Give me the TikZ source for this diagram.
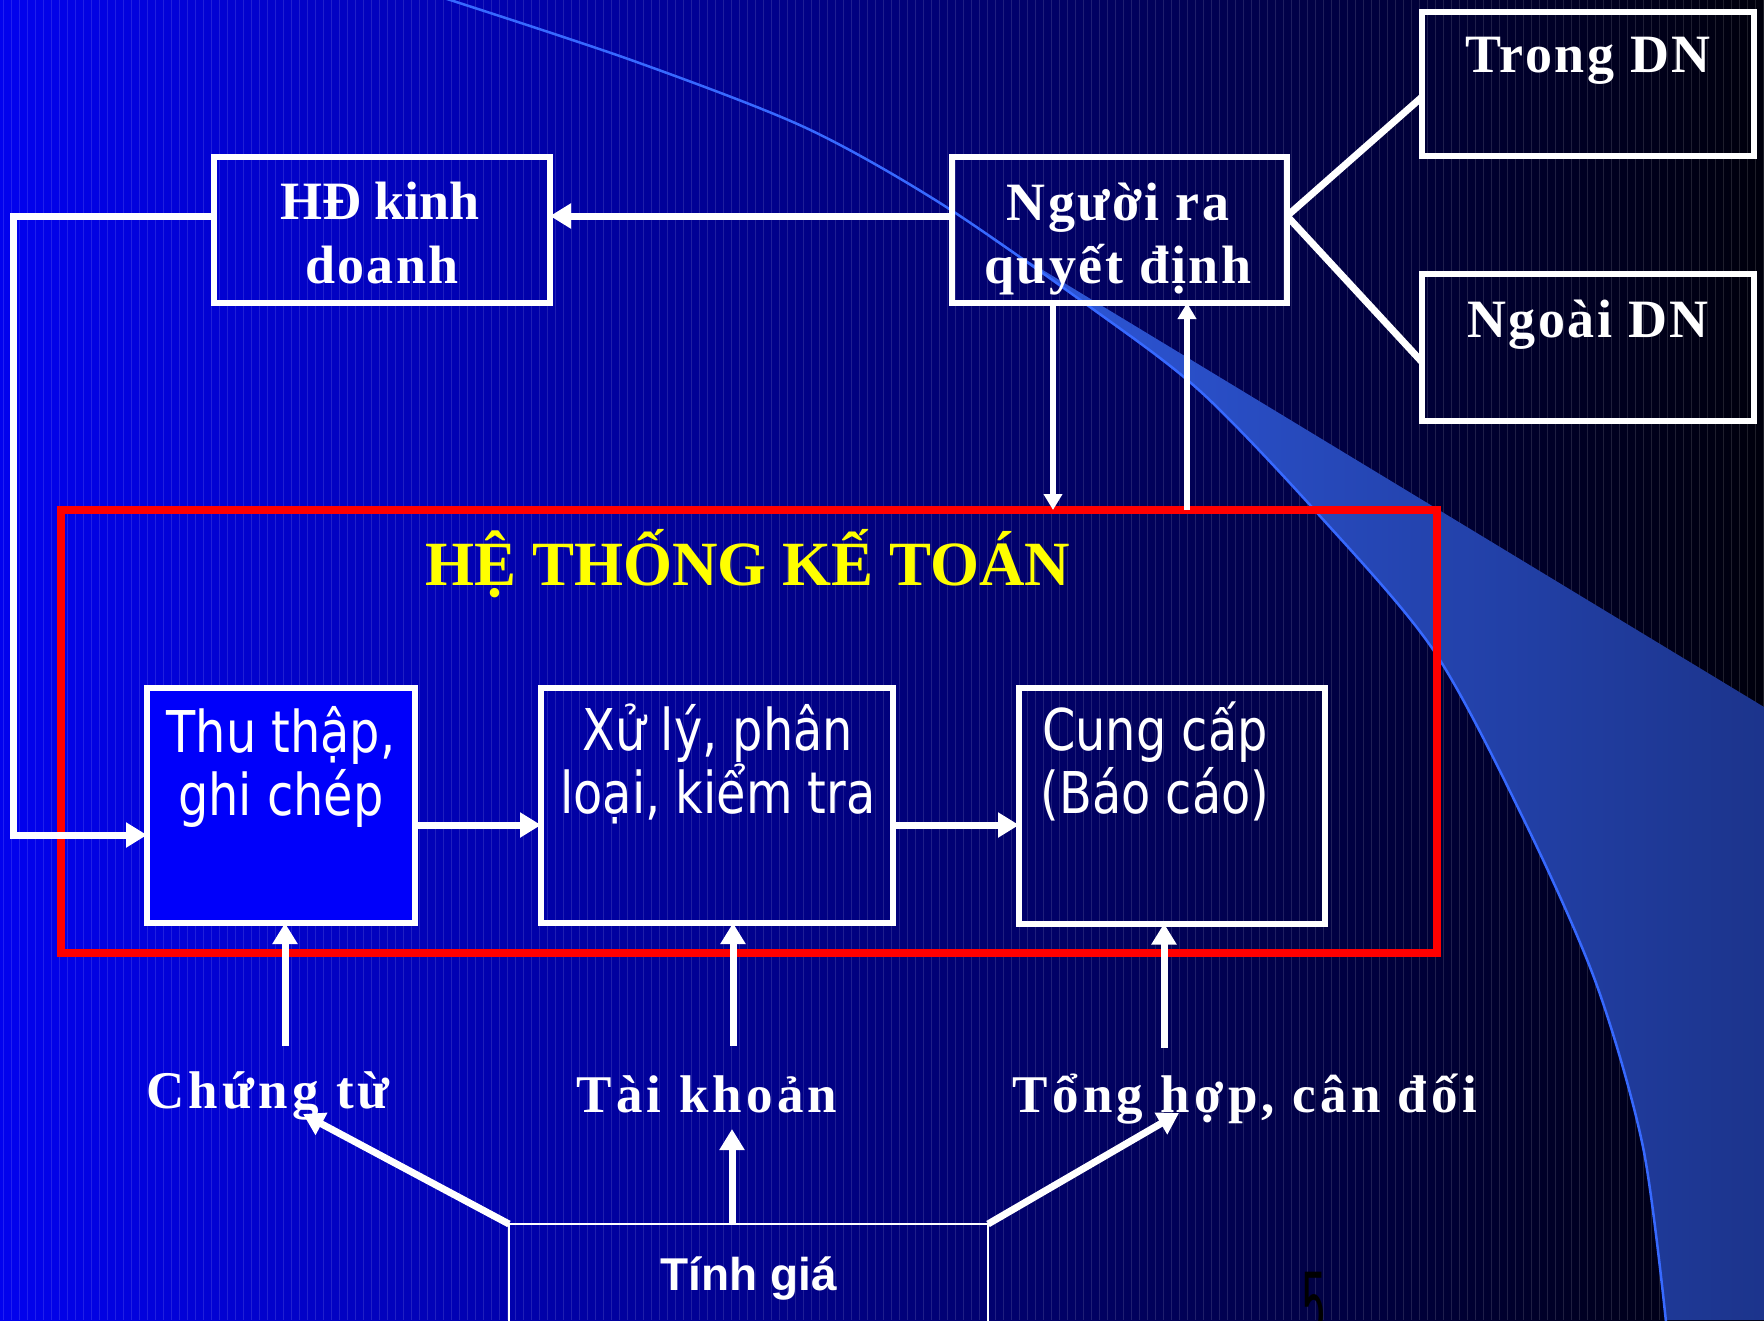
\documentclass[tikz,border=0pt]{standalone}
\usepackage{fontspec}
\setmainfont{Liberation Serif}
\newfontfamily\boxfont{DejaVu Sans}[FakeStretch=0.83]
\newfontfamily\labfont{Liberation Serif}[LetterSpace=8]
\newfontfamily\boxserif{Liberation Serif}[LetterSpace=4.5]
\newfontfamily\tgfont{Liberation Sans}
\usetikzlibrary{arrows.meta,calc}
\definecolor{bgA}{RGB}{2,2,238}
\definecolor{bgB}{RGB}{0,0,128}
\definecolor{bgC}{RGB}{0,0,12}
\definecolor{swA}{RGB}{46,88,220}
\definecolor{swB}{RGB}{28,52,140}
\definecolor{swL}{RGB}{55,105,255}
\definecolor{ttl}{RGB}{255,255,0}
\definecolor{thuFill}{RGB}{0,0,250}
\definecolor{frameRed}{RGB}{255,0,0}
\tikzset{
  wbox/.style={draw=white, line width=6pt, rectangle, inner sep=0pt, outer sep=0pt},
  serifB/.style={text=white, font=\boxserif\fontsize{54}{64}\selectfont\bfseries, anchor=base, inner sep=0pt},
  sansT/.style={text=white, font=\boxfont\fontsize{57.6}{64}\selectfont, anchor=base, inner sep=0pt},
  labT/.style={text=white, font=\labfont\fontsize{53}{60}\selectfont\bfseries, anchor=base, inner sep=0pt},
  conn/.style={draw=white, line width=7pt},
  arr/.style={conn, -{Triangle[length=21pt,width=24pt]}},
  arrs/.style={draw=white, line width=6pt, -{Triangle[length=16pt,width=18pt]}},
}
\begin{document}
\begin{tikzpicture}[x=1pt,y=-1pt]
\useasboundingbox (0,0) rectangle (1764,1320);
\clip (0,0) rectangle (1764,1320);
% background
\shade[left color=bgA, middle color=bgB, right color=bgC] (0,0) rectangle (1764,1320);
\foreach \i in {0,...,220} \draw[white, opacity=0.12, line width=1pt] (8*\i+3,0) -- (8*\i+3,1320);
% swoosh
\shade[left color=swA, right color=swB] (990,238) -- (1764,707) -- (1764,1320) -- plot[smooth] coordinates {(1666,1320) (1643,1147) (1596,983) (1524,820) (1434,651) (1319,515) (1200,391) (1090,307) (990,238)} -- cycle;
\draw[swL, line width=2.5pt] plot[smooth] coordinates {(444,-2) (631,60) (804,127) (940,203) (1090,307) (1200,391) (1319,515) (1434,651) (1524,820) (1596,983) (1643,1147) (1666,1322)};
% frame
\node[draw=frameRed, line width=8pt, inner sep=0pt, outer sep=0pt, minimum width=1376pt, minimum height=443pt] (hetk) at (749,731.5) {};
\node[anchor=base, text=ttl, font=\fontsize{63}{70}\selectfont\bfseries, inner sep=0pt] (title) at (748,585) {HỆ THỐNG KẾ TOÁN};
% boxes
\node[wbox, minimum width=336pt, minimum height=146pt] (hd) at (382,230) {};
\node[wbox, minimum width=335pt, minimum height=146pt] (nguoi) at (1119.5,230) {};
\node[wbox, minimum width=332pt, minimum height=144pt] (trong) at (1588,84) {};
\node[wbox, minimum width=332pt, minimum height=147pt] (ngoai) at (1588,347.5) {};
\node[wbox, fill=thuFill, minimum width=268pt, minimum height=235pt] (thu) at (281,805.5) {};
\node[wbox, minimum width=352pt, minimum height=235pt] (xuly) at (717,805.5) {};
\node[wbox, minimum width=306pt, minimum height=236pt] (cung) at (1172,805.5) {};
\node[draw=white, line width=1.8pt, inner sep=0pt, outer sep=0pt, minimum width=479pt, minimum height=200pt] (tinh) at (748.5,1324) {};
% texts
\node[serifB, font=\rmfamily\fontsize{54}{64}\selectfont\bfseries] (hd1) at (380,219) {HĐ kinh};
\node[serifB] (hd2) at (382,283) {doanh};
\node[serifB] (ng1) at (1118,220) {Người ra};
\node[serifB] (ng2) at (1118,283) {quyết định};
\node[serifB] (tr1) at (1588,72) {Trong DN};
\node[serifB] (no1) at (1588,337) {Ngoài DN};
\node[sansT] (th1) at (281,752) {Thu thập,};
\node[sansT] (th2) at (281,815) {ghi chép};
\node[sansT] (xl1) at (718,750) {Xử lý, phân};
\node[sansT] (xl2) at (718,813) {loại, kiểm tra};
\node[sansT] (cc1) at (1155,750) {Cung cấp};
\node[sansT] (cc2) at (1155,813) {(Báo cáo)};
\node[labT] (lb1) at (268,1108) {Chứng từ};
\node[labT] (lb2) at (707,1112) {Tài khoản};
\node[labT] (lb3) at (1245,1112) {Tổng hợp, cân đối};
\node[anchor=base, text=white, font=\tgfont\fontsize{46}{50}\selectfont\bfseries, inner sep=0pt] (tg) at (749,1290) {Tính giá};
\node[anchor=north, inner sep=0pt, text=black] (pg) at (1314,1272) {\scalebox{0.55}[1]{\fontsize{95}{95}\selectfont\sffamily 5}};
% connectors
\coordinate (yhd) at (0,216);
\coordinate (fbA) at (13,216);
\coordinate (fbB) at (13,835);
\coordinate (yrow) at (0,825);
\coordinate (xdn) at (1053,0);
\coordinate (xup) at (1187,0);
\coordinate (ytr) at (0,97);
\coordinate (yno) at (0,362);
\draw[arr] (nguoi.west |- yhd) -- (hd.east |- yhd);
\draw[arr, line join=miter] (hd.west |- yhd) -- (fbA) -- (fbB) -- (thu.west |- fbB);
\draw[arr] (thu.east |- yrow) -- (xuly.west |- yrow);
\draw[arr] (xuly.east |- yrow) -- (cung.west |- yrow);
\draw[arrs] (nguoi.south -| xdn) -- (hetk.north -| xdn);
\draw[arrs] (hetk.north -| xup) -- (nguoi.south -| xup);
\draw[conn] (nguoi.east |- yhd) -- (trong.west |- ytr);
\draw[conn] (nguoi.east |- yhd) -- (ngoai.west |- yno);
\coordinate (c1) at (285,1046);
\coordinate (c2) at (733,1046);
\coordinate (c3) at (1164,1048);
\draw[arr] (c1) -- (c1 |- thu.south);
\draw[arr] (c2) -- (c2 |- xuly.south);
\draw[arr] (c3) -- (c3 |- cung.south);
\coordinate (tipL) at (303,1114);
\coordinate (tipM) at (732,1129);
\coordinate (tipR) at (1179,1113);
\draw[arr] (tinh.north west) -- (tipL);
\draw[arr] (tipM |- tinh.north) -- (tipM);
\draw[arr] (tinh.north east) -- (tipR);
\end{tikzpicture}
\end{document}
